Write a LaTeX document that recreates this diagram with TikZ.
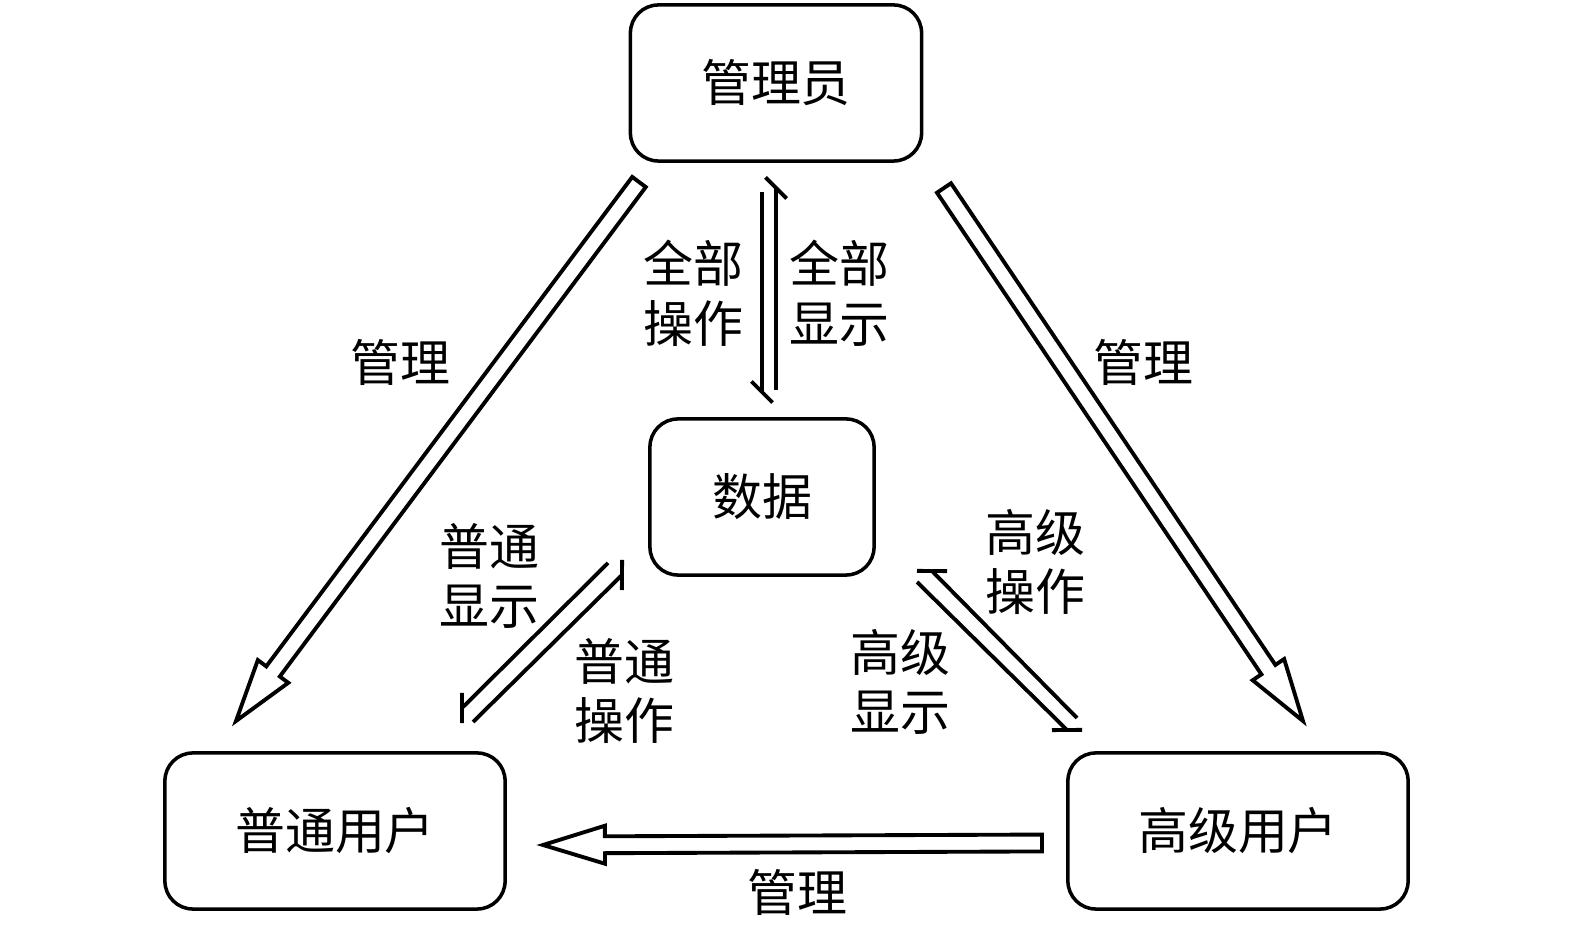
\documentclass[tikz,border=0pt]{standalone}
\usepackage{fontspec}
\newfontfamily\cjk{Noto Sans CJK SC}
\usetikzlibrary{calc}

\tikzset{
  box/.style={draw, rounded corners=0.28cm, line width=1pt, minimum height=1.56cm,
    font=\cjk\fontsize{14.2pt}{17pt}\selectfont},
  lbl/.style={align=center, inner sep=0pt, font=\cjk\fontsize{14.2pt}{17pt}\selectfont},
  blk/.style={draw, line width=1.1pt, line join=miter, fill=white},
  hline/.style={line width=1.1pt},
}

% hollow block arrow from #1 to #2
\newcommand{\blockarrow}[2]{%
  \path let \p1=($(#2)-(#1)$), \n1={atan2(\y1,\x1)}, \n2={veclen(\x1,\y1)} in
    \pgfextra{\xdef\baang{\n1}\xdef\balen{\n2}};
  \begin{scope}[shift={(#1)}, rotate=\baang]
    \draw[blk] (0pt,-2.4pt) -- ({\balen-17.6pt},-2.4pt) -- ({\balen-17.6pt},-5.4pt)
      -- ({\balen},0pt) -- ({\balen-17.6pt},5.4pt) -- ({\balen-17.6pt},2.4pt)
      -- (0pt,2.4pt) -- cycle;
  \end{scope}}
% line from #1 to #2 with a slanted bar at #2
\newcommand{\barline}[2]{%
  \draw[hline] (#1) -- (#2);
  \draw[hline] ($(#2)!0.15cm!45:(#1)$) -- ($(#2)!0.15cm!225:(#1)$);}

\begin{document}
\begin{tikzpicture}[x=0.01cm, y=-0.01cm]
  \useasboundingbox (0,0) rectangle (1575,925);

  %%%%%%%%%%%%%%%%%%%%%%%%%%%%%%%%%%%%%%%%%%
  %%% The four boxes
  %%%%%%%%%%%%%%%%%%%%%%%%%%%%%%%%%%%%%%%%%%
  \node[box, minimum width=2.91cm] (admin) at (776,83) {管理员};
  \node[box, minimum width=2.24cm] (data) at (762,497) {数据};
  \node[box, minimum width=3.40cm] (normal) at (335,831) {普通用户};
  \node[box, minimum width=3.40cm] (senior) at (1238,831) {高级用户};

  % ends of the arrows
  \coordinate (mlA) at (639,182);  \coordinate (mlB) at (236,721);
  \coordinate (mrA) at (944,188);  \coordinate (mrB) at (1303,721);
  \coordinate (mbA) at (1042,843); \coordinate (mbB) at (543,845);
  \coordinate (v1A) at (762,192);  \coordinate (v1B) at (762,392);
  \coordinate (v2A) at (776,390);  \coordinate (v2B) at (776,188);
  \coordinate (l1A) at (608,563);  \coordinate (l1B) at (462,708);
  \coordinate (l2A) at (473,722);  \coordinate (l2B) at (622,575);
  \coordinate (r1A) at (1077,718); \coordinate (r1B) at (932,571);
  \coordinate (r2A) at (917,582);  \coordinate (r2B) at (1067,730);

  % management arrows
  \blockarrow{mlA}{mlB}
  \blockarrow{mrA}{mrB}
  \blockarrow{mbA}{mbB}

  % data flow, admin <-> data, normal <-> data, senior <-> data
  \barline{v1A}{v1B}
  \barline{v2A}{v2B}
  \barline{l1A}{l1B}
  \barline{l2A}{l2B}
  \barline{r1A}{r1B}
  \barline{r2A}{r2B}

  %%%%%%%%%%%%%%%%%%%%%%%%%%%%%%%%%%%%%%%%%%
  %%% Labels
  %%%%%%%%%%%%%%%%%%%%%%%%%%%%%%%%%%%%%%%%%%
  \node[lbl] (allop) at (693,293) {全部\\操作};
  \node[lbl] (allshow) at (839,293) {全部\\显示};
  \node[lbl] (mgl) at (400,362) {管理};
  \node[lbl] (mgr) at (1143,362) {管理};
  \node[lbl] (mgb) at (797,892) {管理};
  \node[lbl] (norshow) at (489,576) {普通\\显示};
  \node[lbl] (norop) at (624,691) {普通\\操作};
  \node[lbl] (senop) at (1035,562) {高级\\操作};
  \node[lbl] (senshow) at (900,682) {高级\\显示};
\end{tikzpicture}
\end{document}
